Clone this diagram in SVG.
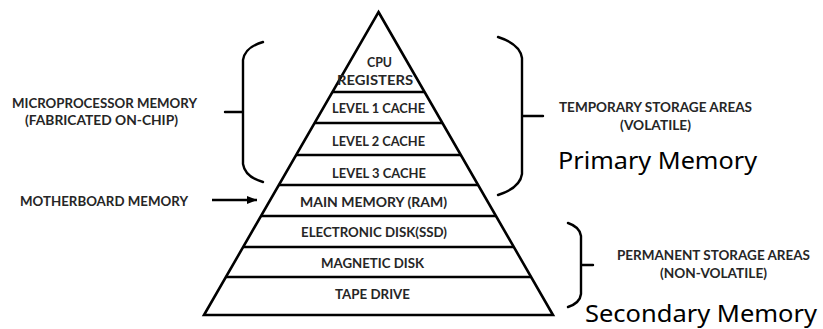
<svg xmlns="http://www.w3.org/2000/svg" width="823" height="329" viewBox="0 0 823 329">
<style>
.ln{stroke:#000;stroke-width:2.6;fill:none}
.br{stroke:#000;stroke-width:2.4;fill:none;stroke-linecap:round}
.lb{font-family:Lato,"Open Sans","Liberation Sans",sans-serif;font-weight:700;fill:#262626;text-anchor:middle;font-size:12.5px}
.sd{font-family:Lato,"Open Sans","Liberation Sans",sans-serif;font-weight:700;fill:#262626;text-anchor:middle;font-size:13px}
.bg{font-family:"Noto Sans","Open Sans","Liberation Sans",sans-serif;fill:#000;font-size:24px}
</style>
<defs>
<marker id="ah" markerWidth="10" markerHeight="8" refX="10" refY="4" orient="auto" markerUnits="userSpaceOnUse">
<path d="M0,0 L10,4 L0,8 Z" fill="#000"/>
</marker>
</defs>
<rect width="823" height="329" fill="#fff"/>
<g id="pyramid">
<polygon class="ln" points="378.5,12 553,315 204,315" stroke-linejoin="miter"/>
<line class="ln" x1="332.4" y1="92" x2="424.6" y2="92"/>
<line class="ln" x1="314.6" y1="123" x2="442.4" y2="123"/>
<line class="ln" x1="296.1" y1="155" x2="460.9" y2="155"/>
<line class="ln" x1="278.9" y1="185" x2="478.1" y2="185"/>
<line class="ln" x1="261" y1="216" x2="496" y2="216"/>
<line class="ln" x1="243.2" y1="247" x2="513.8" y2="247"/>
<line class="ln" x1="225.9" y1="277" x2="531.1" y2="277"/>
</g>
<g id="cpu"><text class="lb" x="379.5" y="67" textLength="25" lengthAdjust="spacingAndGlyphs">CPU</text><text class="lb" x="375" y="85" textLength="76" lengthAdjust="spacingAndGlyphs">REGISTERS</text></g>
<g id="l1"><text class="lb" x="378.5" y="113" textLength="93" lengthAdjust="spacingAndGlyphs">LEVEL 1 CACHE</text></g>
<g id="l2"><text class="lb" x="378.5" y="146" textLength="93" lengthAdjust="spacingAndGlyphs">LEVEL 2 CACHE</text></g>
<g id="l3"><text class="lb" x="379" y="178" textLength="94" lengthAdjust="spacingAndGlyphs">LEVEL 3 CACHE</text></g>
<g id="ram"><text class="lb" x="373.5" y="207" textLength="147" lengthAdjust="spacingAndGlyphs">MAIN MEMORY (RAM)</text></g>
<g id="ssd"><text class="lb" x="374" y="237" textLength="146" lengthAdjust="spacingAndGlyphs">ELECTRONIC DISK(SSD)</text></g>
<g id="mag"><text class="lb" x="372.5" y="268" textLength="103" lengthAdjust="spacingAndGlyphs">MAGNETIC DISK</text></g>
<g id="tape"><text class="lb" x="372.5" y="299" textLength="75" lengthAdjust="spacingAndGlyphs">TAPE DRIVE</text></g>
<g id="micro"><text class="sd" x="104.5" y="108" textLength="185" lengthAdjust="spacingAndGlyphs">MICROPROCESSOR MEMORY</text><text class="sd" x="101.5" y="125" textLength="153" lengthAdjust="spacingAndGlyphs">(FABRICATED ON-CHIP)</text></g>
<g id="mobo"><text class="sd" x="104" y="206" textLength="168" lengthAdjust="spacingAndGlyphs">MOTHERBOARD MEMORY</text></g>
<g id="temp"><text class="lb" x="655.5" y="112" textLength="193" lengthAdjust="spacingAndGlyphs">TEMPORARY STORAGE AREAS</text><text class="lb" x="655.5" y="130" textLength="71" lengthAdjust="spacingAndGlyphs">(VOLATILE)</text><text class="bg" x="558" y="169" textLength="199" lengthAdjust="spacingAndGlyphs">Primary Memory</text></g>
<g id="perm"><text class="lb" x="713.5" y="260" textLength="193" lengthAdjust="spacingAndGlyphs">PERMANENT STORAGE AREAS</text><text class="lb" x="713.5" y="278" textLength="107" lengthAdjust="spacingAndGlyphs">(NON-VOLATILE)</text><text class="bg" x="585" y="322" textLength="232" lengthAdjust="spacingAndGlyphs">Secondary Memory</text></g>
<g id="connectors">
<path class="br" d="M263,42 Q245,47 243,60 L243,164 Q245,177 263,182 M225,112 H243"/>
<path class="br" d="M498,37 Q520,44 522,58 L522,174 Q520,188 498,195 M522,116 H543"/>
<path class="br" d="M568,223 Q580,227 581,236 L581,294 Q580,303 568,307 M581,265 H593"/>
<line x1="212" y1="200" x2="257" y2="200" stroke="#000" stroke-width="2.4" marker-end="url(#ah)"/>
</g>
</svg>
